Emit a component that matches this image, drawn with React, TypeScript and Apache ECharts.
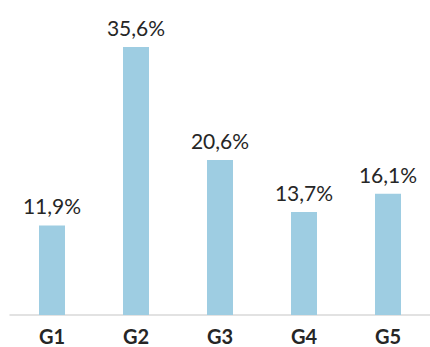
import React, { useEffect, useRef } from "react";
import * as echarts from "echarts";

const categories = ["G1", "G2", "G3", "G4", "G5"];
const values = [11.9, 35.6, 20.6, 13.7, 16.1];

export default function App() {
  const ref = useRef<HTMLDivElement>(null);
  useEffect(() => {
    const chart = echarts.init(ref.current!, null, { renderer: "svg" });
    chart.setOption({
      animation: false,
      grid: { left: 10, right: -4, top: 14, bottom: 32, containLabel: false },
      xAxis: {
        type: "category",
        data: categories,
        axisLine: { show: true, lineStyle: { color: "#d9d9d9", width: 1.5 } },
        axisTick: { show: false },
        axisLabel: {
          color: "#262626",
          fontSize: 20,
          fontWeight: "bold",
          fontFamily: "Lato",
          lineHeight: 20,
          margin: 11,
        },
      },
      yAxis: {
        type: "value",
        min: 0,
        max: 40,
        show: false,
        splitLine: { show: false },
      },
      series: [
        {
          type: "bar",
          data: values,
          barWidth: 26,
          itemStyle: { color: "#9ecde2" },
          label: {
            show: true,
            position: "top",
            distance: 9,
            color: "#262626",
            fontSize: 21,
            fontFamily: "Lato",
            formatter: (p: any) => p.value.toFixed(1).replace(".", ",") + "%",
          },
        },
      ],
    });
    return () => chart.dispose();
  }, []);
  return (
    <div
      ref={ref}
      style={{ position: "fixed", left: 0, top: 0, width: 430, height: 347, background: "#fff" }}
    />
  );
}
